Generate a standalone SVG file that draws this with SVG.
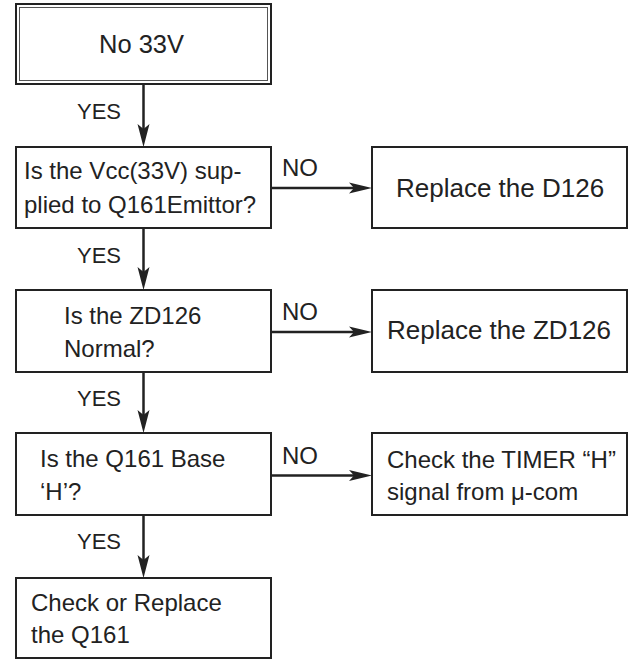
<svg xmlns="http://www.w3.org/2000/svg" width="631" height="660" viewBox="0 0 631 660">
<defs>
<style>
.box{fill:#fff;stroke:#222;stroke-width:2}
.t{font-family:"Liberation Sans",Arial,sans-serif;font-size:24px;fill:#222}
.lbl{font-family:"Liberation Sans",Arial,sans-serif;font-size:22px;fill:#222}
.no{font-family:"Liberation Sans",Arial,sans-serif;font-size:24px;fill:#222}
.ln{stroke:#222;stroke-width:2.5;fill:none}
.ah{fill:#222}
</style>
<marker id="arr" viewBox="-24 -6 25 12" refX="0" refY="0" markerWidth="25" markerHeight="12" markerUnits="userSpaceOnUse" orient="auto">
<path d="M0,0 L-23,-5.5 L-18,0 L-23,5.5 Z" fill="#222"/>
</marker>
</defs>
<rect width="631" height="660" fill="#fff"/>

<g id="connectors">
<path class="ln" d="M143.5,85 V129" />
<path class="ah" d="M143.5,147 L137.5,124 L143.5,129 L149.5,124 Z"/>
<path class="ln" d="M143.5,228 V272" />
<path class="ah" d="M143.5,290 L137.5,267 L143.5,272 L149.5,267 Z"/>
<path class="ln" d="M143.5,372 V415" />
<path class="ah" d="M143.5,433 L137.5,410 L143.5,415 L149.5,410 Z"/>
<path class="ln" d="M143.5,515 V560" />
<path class="ah" d="M143.5,578 L137.5,555 L143.5,560 L149.5,555 Z"/>
<path class="ln" d="M271,188 H354" />
<path class="ah" d="M372,188 L349,182.5 L354,188 L349,193.5 Z"/>
<path class="ln" d="M271,332 H354" />
<path class="ah" d="M372,332 L349,326.5 L354,332 L349,337.5 Z"/>
<path class="ln" d="M271,475.5 H354" />
<path class="ah" d="M372,475.5 L349,470 L354,475.5 L349,481 Z"/>
<text class="lbl" x="77" y="119">YES</text>
<text class="lbl" x="77" y="263">YES</text>
<text class="lbl" x="77" y="406">YES</text>
<text class="lbl" x="77" y="549">YES</text>
<text class="no" x="282" y="176">NO</text>
<text class="no" x="282" y="320">NO</text>
<text class="no" x="282" y="464">NO</text>
</g>

<g id="n1">
<rect x="16" y="4" width="255" height="80" fill="#fff" stroke="#222" stroke-width="2"/>
<rect x="19.5" y="7.5" width="248" height="73" fill="none" stroke="#555" stroke-width="1"/>
<text class="t" x="99" y="53" style="font-size:25.5px">No 33V</text>
</g>

<g id="n2">
<rect class="box" x="16" y="147" width="255" height="81"/>
<text class="t" x="24" y="179">Is the Vcc(33V) sup-</text>
<text class="t" x="24" y="213">plied to Q161Emittor?</text>
</g>

<g id="n3">
<rect class="box" x="372" y="147" width="255" height="81"/>
<text class="t" x="396" y="197" style="font-size:26px">Replace the D126</text>
</g>

<g id="n4">
<rect class="box" x="16" y="290" width="255" height="82"/>
<text class="t" x="64" y="324">Is the ZD126</text>
<text class="t" x="64" y="357">Normal?</text>
</g>

<g id="n5">
<rect class="box" x="372" y="290" width="255" height="82"/>
<text class="t" x="387" y="339" style="font-size:26px">Replace the ZD126</text>
</g>

<g id="n6">
<rect class="box" x="16" y="433" width="255" height="82"/>
<text class="t" x="40" y="467">Is the Q161 Base</text>
<text class="t" x="40" y="500">‘H’?</text>
</g>

<g id="n7">
<rect class="box" x="372" y="433" width="255" height="82"/>
<text class="t" x="387" y="468">Check the TIMER “H”</text>
<text class="t" x="387" y="500">signal from μ-com</text>
</g>

<g id="n8">
<rect class="box" x="16" y="578" width="255" height="80"/>
<text class="t" x="31" y="611">Check or Replace</text>
<text class="t" x="31" y="643">the Q161</text>
</g>
</svg>
